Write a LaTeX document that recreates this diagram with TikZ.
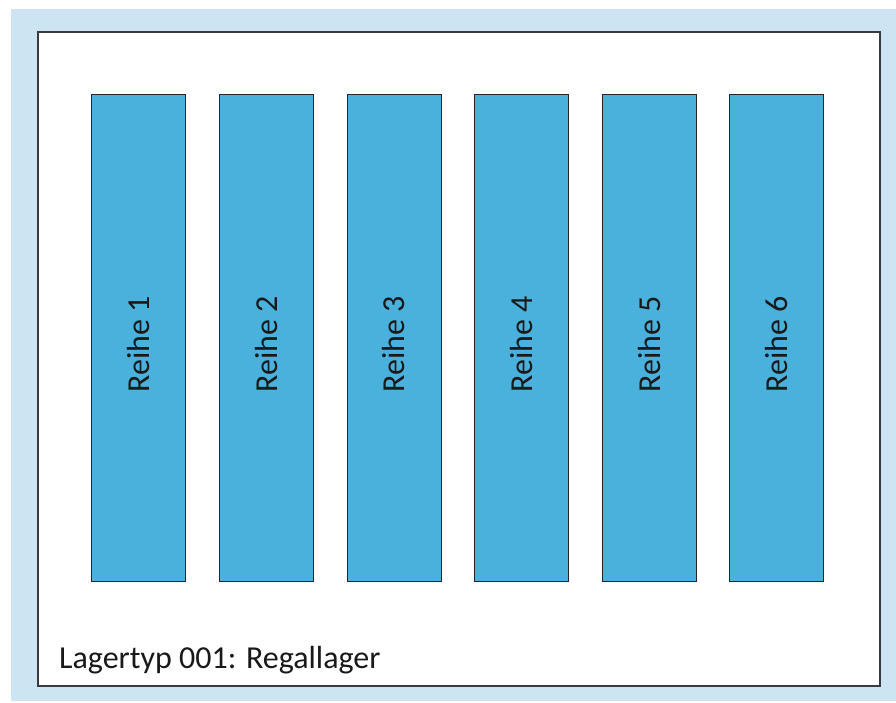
\documentclass[tikz,border=0pt]{standalone}
\usepackage{fontspec}
\setmainfont{Carlito}
\usepackage{tikz}
\definecolor{hintergrund}{RGB}{205,228,243}
\definecolor{regalblau}{RGB}{74,176,220}
\definecolor{rahmen}{RGB}{58,58,62}

\begin{document}
\begin{tikzpicture}[x=1pt, y=-1pt, line cap=rect, every node/.style={font=\fontsize{32}{38}\selectfont, text=black!90}]
	\useasboundingbox (0,0) rectangle (896,703);
	% background
	\fill[hintergrund] (11,9) rectangle (896,701);
	% storage area
	\node (lager) [draw=rahmen, line width=1.1pt, fill=white, inner sep=0pt,
		minimum width=842pt, minimum height=654pt] at (459,359) {};
	% rows
	\foreach \i in {1,...,6} {
		\node (reihe\i) [draw=black!85, line width=0.8pt, fill=regalblau, inner sep=0pt,
			minimum width=94pt, minimum height=487pt] at ({138.7+127.6*(\i-1)},337.5) {};
		\node[rotate=90] at ([yshift=-7pt]reihe\i.center) {Reihe \i};
	}
	% label
	\node (typ) [anchor=base west, inner sep=0pt] at (59,668) {Lagertyp 001: Regallager};
\end{tikzpicture}
\end{document}
